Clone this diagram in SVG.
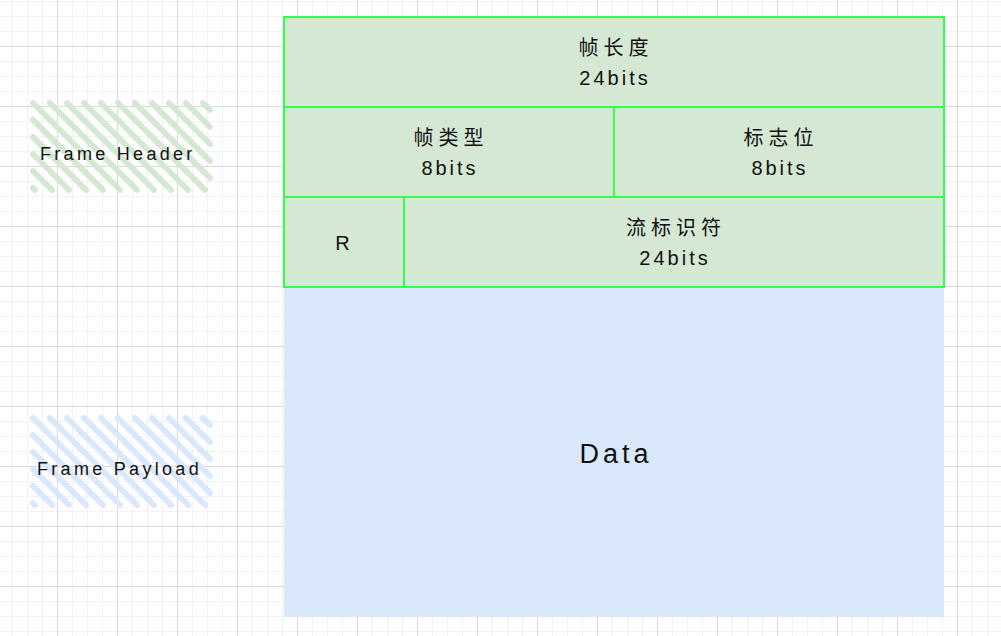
<svg xmlns="http://www.w3.org/2000/svg" width="1001" height="636" viewBox="0 0 1001 636">
<style>
.cell{stroke:#33ff4d;stroke-width:2;fill:#d5e8d4}
.t{font-family:"Liberation Sans","Noto Sans CJK SC",sans-serif;fill:#111;text-anchor:middle}
.s{font-size:20px;letter-spacing:3px}
.cn{font-size:20px;letter-spacing:5px}
.lbl{font-size:18px;letter-spacing:3.3px;text-anchor:start}
</style>
<defs>
<pattern id="grid" x="57" y="46" width="60" height="60" patternUnits="userSpaceOnUse">
<rect width="60" height="60" fill="#fff"/>
<g fill="#f2f2f2">
<rect x="15" y="0" width="1" height="60"/><rect x="30" y="0" width="1" height="60"/><rect x="45" y="0" width="1" height="60"/>
<rect x="0" y="15" width="60" height="1"/><rect x="0" y="30" width="60" height="1"/><rect x="0" y="45" width="60" height="1"/>
</g>
<g fill="#dadada">
<rect x="0" y="0" width="1" height="60"/><rect x="0" y="0" width="60" height="1"/>
</g>
</pattern>
<path id="hatchLines" fill="none" stroke-width="6" stroke-linecap="round" d="M33 188L35 190M33 171L52 190M33 154L69 190M33 137L86 190M33 120L103 190M33 103L120 190M50 103L137 190M67 103L154 190M84 103L171 190M101 103L188 190M118 103L205 190M135 103L210 178M152 103L210 161M169 103L210 144M186 103L210 127M203 103L210 110"/>
</defs>
<rect width="1001" height="636" fill="url(#grid)"/>
<g id="label-header">
<use href="#hatchLines" stroke="#d5e8d4"/>
<text class="t lbl" x="40" y="160">Frame Header</text>
</g>
<g id="label-payload">
<use href="#hatchLines" stroke="#dae8fc" transform="translate(0,315)"/>
<text class="t lbl" x="37" y="475">Frame Payload</text>
</g>
<g id="payload">
<rect x="284" y="287" width="660" height="330" fill="#dae8fc"/>
<text class="t" x="616" y="463" style="font-size:27px;letter-spacing:4px">Data</text>
</g>
<g id="frame-length">
<rect class="cell" x="284" y="17" width="660" height="90"/>
<text class="t cn" x="616" y="55">帧长度</text>
<text class="t s" x="615" y="85">24bits</text>
</g>
<g id="frame-type">
<rect class="cell" x="284" y="107" width="330" height="90"/>
<text class="t cn" x="451" y="145">帧类型</text>
<text class="t s" x="450" y="175">8bits</text>
</g>
<g id="flags">
<rect class="cell" x="614" y="107" width="330" height="90"/>
<text class="t cn" x="781" y="145">标志位</text>
<text class="t s" x="780" y="175">8bits</text>
</g>
<g id="reserved">
<rect class="cell" x="284" y="197" width="120" height="90"/>
<text class="t s" x="344" y="250">R</text>
</g>
<g id="stream-id">
<rect class="cell" x="404" y="197" width="540" height="90"/>
<text class="t cn" x="676" y="235">流标识符</text>
<text class="t s" x="675" y="265">24bits</text>
</g>
<g id="connectors"/>
</svg>
